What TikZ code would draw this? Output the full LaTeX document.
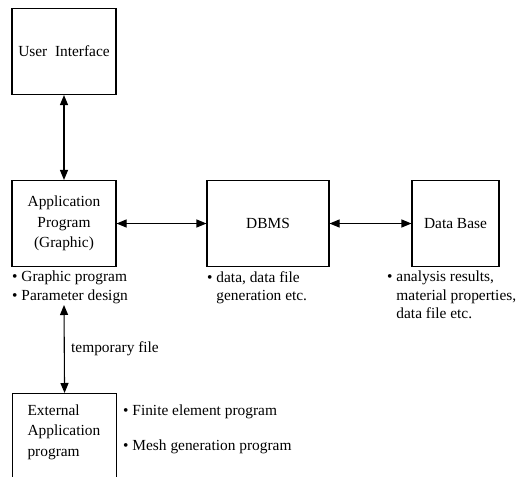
\documentclass[tikz,border=0pt]{standalone}
\usepackage{fontspec}
\setmainfont{Liberation Serif}
\usetikzlibrary{positioning,arrows.meta}

\tikzset{
  block/.style={draw=black,line width=1.1pt,minimum width=104pt,minimum height=86pt,align=center,
    font=\fontsize{15.4}{20.5}\selectfont},
  notes/.style={align=left,inner sep=0pt,font=\fontsize{15.4}{18.5}\selectfont},
  link/.style={line width=1.1pt,{Triangle[length=10pt,width=8pt]}-{Triangle[length=10pt,width=8pt]}},
}

\begin{document}
\begin{tikzpicture}[x=1pt,y=-1pt]
	\useasboundingbox (0,0) rectangle (531,477);

	\node[block] (ui) at (64,51.5) {User\ \ Interface};
	\node[block] (app) at (64,223.5) {Application\\Program\\(Graphic)};
	\node[block,minimum width=122pt] (dbms) at (268,223.5) {DBMS};
	\node[block,minimum width=87pt] (db) at (455.5,223.5) {Data Base};

	\node[block,anchor=north west,inner xsep=8pt,inner ysep=11pt] (ext) at (12,393)
		{\parbox[c][100pt][t]{74pt}{\raggedright External\\Application\\program}};

	\draw[link] (ui.south)--(app.north);
	\draw[link] (app.east)--(dbms.west);
	\draw[link] (dbms.east)--(db.west);

	% notes under the boxes
	\node[notes,anchor=north west] (appnote) at (12,271) {\textbullet\ Graphic program\\\textbullet\ Parameter design};
	\node[notes,anchor=north west] (dbmsnote) at (207,271) {\textbullet\ data, data file\\\phantom{\textbullet\ }generation etc.};
	\node[notes,anchor=north west] (dbnote) at (387,271) {\textbullet\ analysis results,\\\phantom{\textbullet\ }material properties,\\\phantom{\textbullet\ }data file etc.};

	\coordinate (tmp) at (64,305);
	\draw[link] (tmp)--(ext.north) node[midway,right=3pt,font=\fontsize{15.4}{18}\selectfont] (tmpfile) {temporary file};

	\node[notes,anchor=west] (fe) at (123,412) {\textbullet\ Finite element program};
	\node[notes,anchor=west] (mesh) at (123,447) {\textbullet\ Mesh generation program};
\end{tikzpicture}
\end{document}
